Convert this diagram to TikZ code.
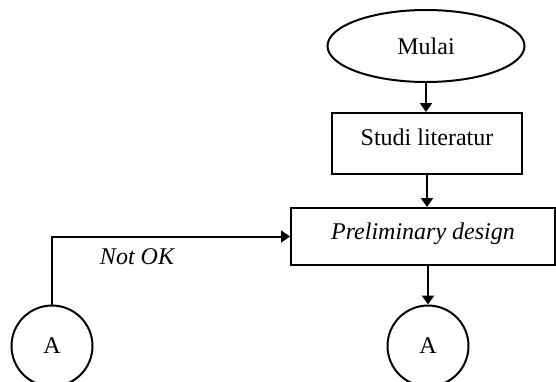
\documentclass[tikz,border=0pt]{standalone}
\usepackage{fontspec}
\setmainfont{Liberation Serif}
\usetikzlibrary{shapes.geometric,arrows.meta}
\begin{document}
\begin{tikzpicture}[x=0.5pt,y=-0.5pt,
  line width=1pt,
  every node/.style={font=\fontsize{12}{14}\selectfont},
  box/.style={draw,rectangle,inner sep=0pt},
  conn/.style={draw,circle,inner sep=0pt,minimum size=40.5pt},
  arr/.style={-{Triangle[length=4.5pt,width=6pt]}}]
\useasboundingbox (0,0) rectangle (556,381);
\node[draw,ellipse,inner sep=0pt,minimum width=98.5pt,minimum height=36pt] (mulai) at (426,46) {Mulai};
\node[box,minimum width=95pt,minimum height=30.5pt] (studi) at (427,143.5) {\raisebox{3pt}[\height][\depth]{Studi literatur}};
\node[box,minimum width=132pt,minimum height=28.5pt] (prelim) at (423,236.5) {\raisebox{1.5pt}[\height][\depth]{\itshape Preliminary design}};
\node[conn] (a2) at (428,346) {A};
\node[conn] (a1) at (52,346) {A};
\node (notok) at (137,257) {\itshape Not OK};
\draw[arr] (mulai.south) -- (studi.north -| mulai.south);
\draw[arr] (studi.south) -- (prelim.north -| studi.south);
\draw[arr] (prelim.south -| a2.north) -- (a2.north);
\draw[arr] (a1.north) |- (prelim.west);
\end{tikzpicture}
\end{document}
